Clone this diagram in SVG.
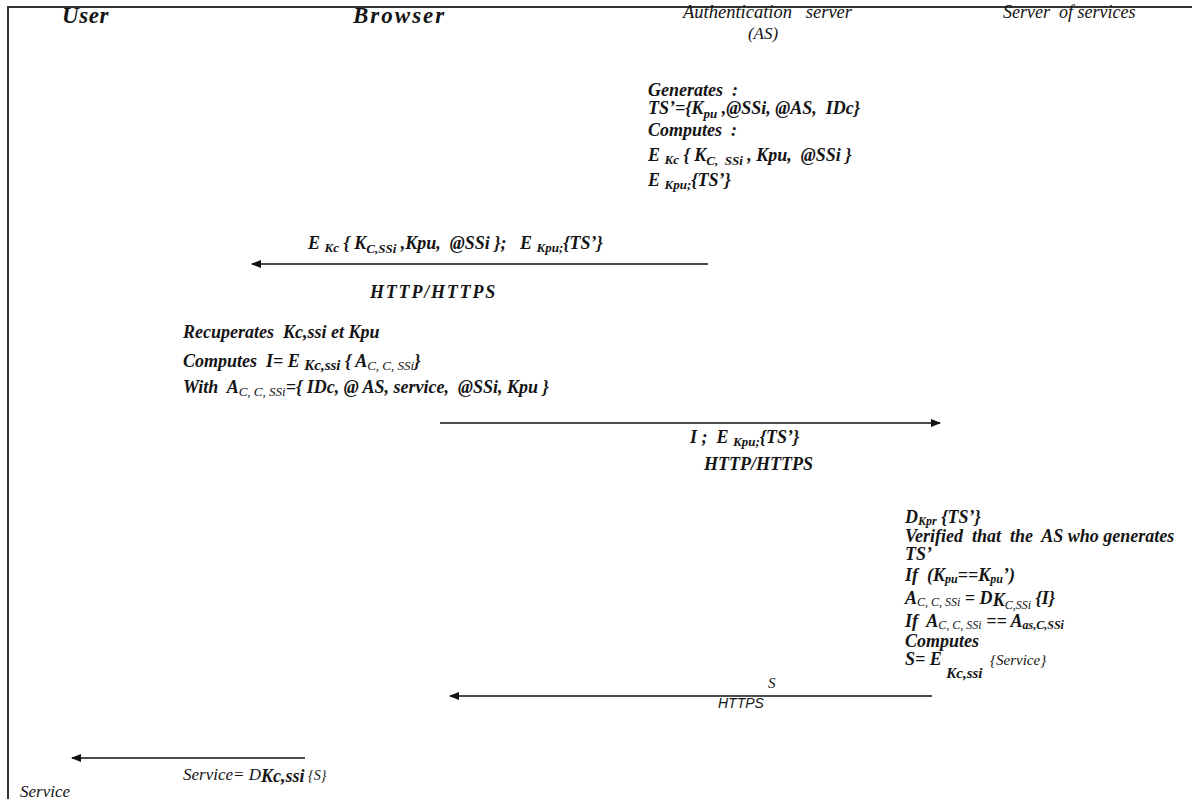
<svg xmlns="http://www.w3.org/2000/svg" width="1192" height="799" viewBox="0 0 1192 799">
  <style>
    .t { font-family: "Liberation Serif", "DejaVu Serif", serif; font-style: italic; font-weight: bold; font-size: 18px; fill: #141414; }
    .h { font-size: 23px; letter-spacing: 0.6px; }
    .n { font-weight: normal; }
    .lbl { font-family: "Liberation Serif", "DejaVu Serif", serif; font-style: italic; font-weight: normal; font-size: 17px; fill: #141414; }
    .c { font-family: "Liberation Sans", sans-serif; font-style: italic; font-weight: normal; font-size: 14px; fill: #141414; }
    .sb { font-size: 13px; }
    .ss { font-size: 12px; }
    .msg { stroke: #111; stroke-width: 1.6; fill: none; }
    .frame { stroke: #333; stroke-width: 2; fill: none; }
  </style>
  <defs>
    <marker id="ah" viewBox="0 0 10 8" refX="9" refY="4" markerWidth="10" markerHeight="8" markerUnits="userSpaceOnUse" orient="auto">
      <path d="M0,0 L10,4 L0,8 Z" fill="#111"/>
    </marker>
  </defs>

  <rect width="1192" height="799" fill="#fff"/>
  <!-- frame lines -->
  <path class="frame" d="M8,799 V7 H1192"/>

  <!-- lane headings -->
  <g id="user">
    <text class="t h" x="62" y="23">User</text>
  </g>
  <g id="browser">
    <text class="t h" x="353" y="23" style="letter-spacing:2px">Browser</text>
  </g>
  <g id="auth-server">
    <text class="lbl" x="683" y="18" style="font-size:18.5px" xml:space="preserve">Authentication   server</text>
    <text class="lbl" x="763" y="39" text-anchor="middle">(AS)</text>
  </g>
  <g id="service-server">
    <text class="lbl" x="1003" y="18" style="font-size:18px" xml:space="preserve">Server  of services</text>
  </g>

  <!-- authentication server processing -->
  <g id="as-step">
    <text class="t" x="648" y="96" xml:space="preserve">Generates  :</text>
    <text class="t" x="648" y="114" xml:space="preserve">TS’={K<tspan class="sb" dy="4">pu</tspan><tspan dy="-4"> ,@SSi, @AS,  IDc}</tspan></text>
    <text class="t" x="648" y="136" xml:space="preserve">Computes  :</text>
    <text class="t" x="648" y="161" xml:space="preserve">E <tspan class="sb" dy="3">Kc</tspan><tspan dy="-3"> { K</tspan><tspan class="sb" dy="4">C,  SSi</tspan><tspan dy="-4"> , Kpu,  @SSi }</tspan></text>
    <text class="t" x="648" y="186">E <tspan class="sb" dy="3">Kpu;</tspan><tspan dy="-3">{TS’}</tspan></text>
  </g>

  <!-- browser processing -->
  <g id="browser-step">
    <text class="t" x="183" y="338" xml:space="preserve">Recuperates  Kc,ssi et Kpu</text>
    <text class="t" x="183" y="367" xml:space="preserve">Computes  I= E <tspan font-size="15" dy="3">Kc,ssi</tspan><tspan dy="-3"> { A</tspan><tspan class="sb n" dy="3">C, C, SSi</tspan><tspan dy="-3">}</tspan></text>
    <text class="t" x="183" y="393" xml:space="preserve">With  A<tspan class="sb n" dy="3">C, C, SSi</tspan><tspan dy="-3">={ IDc, @ AS, service,  @SSi, Kpu }</tspan></text>
  </g>

  <!-- service server processing -->
  <g id="ss-step">
    <text class="t" x="905" y="523">D<tspan class="ss" dy="2">Kpr</tspan><tspan dy="-2"> {TS’}</tspan></text>
    <text class="t" x="905" y="542" xml:space="preserve">Verified  that  the  AS who generates</text>
    <text class="t" x="905" y="560">TS’</text>
    <text class="t" x="905" y="581" xml:space="preserve">If  (K<tspan class="ss" dy="2">pu</tspan><tspan dy="-2">==K</tspan><tspan class="ss" dy="2">pu</tspan><tspan dy="-2">’)</tspan></text>
    <text class="t" x="905" y="604" xml:space="preserve">A<tspan class="ss n" dy="2">C, C, SSi</tspan><tspan dy="-2"> = D</tspan><tspan dy="2">K</tspan><tspan class="ss n" dy="3">C,SSi</tspan><tspan dy="-5"> {I}</tspan></text>
    <text class="t" x="905" y="627" xml:space="preserve">If  A<tspan class="ss n" dy="2">C, C, SSi</tspan><tspan dy="-2"> == A</tspan><tspan class="ss" dy="2">as,C,SSi</tspan></text>
    <text class="t" x="905" y="647">Computes</text>
    <text class="t" x="905" y="665" xml:space="preserve">S= E <tspan font-size="15" dy="13">Kc,ssi</tspan><tspan class="n" font-size="15" dy="-13">  {Service}</tspan></text>
  </g>

  <!-- messages -->
  <g id="connectors">
    <line class="msg" x1="708" y1="264" x2="252" y2="264" marker-end="url(#ah)"/>
    <line class="msg" x1="440" y1="423" x2="940" y2="423" marker-end="url(#ah)"/>
    <line class="msg" x1="932" y1="696" x2="450" y2="696" marker-end="url(#ah)"/>
    <line class="msg" x1="305" y1="758" x2="72" y2="758" marker-end="url(#ah)"/>

    <text class="t" x="308" y="249" xml:space="preserve">E <tspan class="sb" dy="3">Kc</tspan><tspan dy="-3"> { K</tspan><tspan class="sb" dy="4">C,SSi</tspan><tspan dy="-4"> ,Kpu,  @SSi };   E </tspan><tspan class="sb" dy="3">Kpu;</tspan><tspan dy="-3">{TS’}</tspan></text>
    <text class="t" x="370" y="298" letter-spacing="1.8">HTTP/HTTPS</text>

    <text class="t" x="690" y="443" xml:space="preserve">I ;  E <tspan class="sb" dy="3">Kpu;</tspan><tspan dy="-3">{TS’}</tspan></text>
    <text class="t" x="704" y="470">HTTP/HTTPS</text>

    <text class="lbl" x="768" y="688" style="font-size:15px">S</text>
    <text class="c" x="718" y="708">HTTPS</text>

    <text class="lbl" x="183" y="780">Service= D<tspan class="t" font-size="15" dy="2">Kc,ssi</tspan><tspan font-size="14" dy="-2"> {S}</tspan></text>
    <text class="lbl" x="20" y="797">Service</text>
  </g>
</svg>
